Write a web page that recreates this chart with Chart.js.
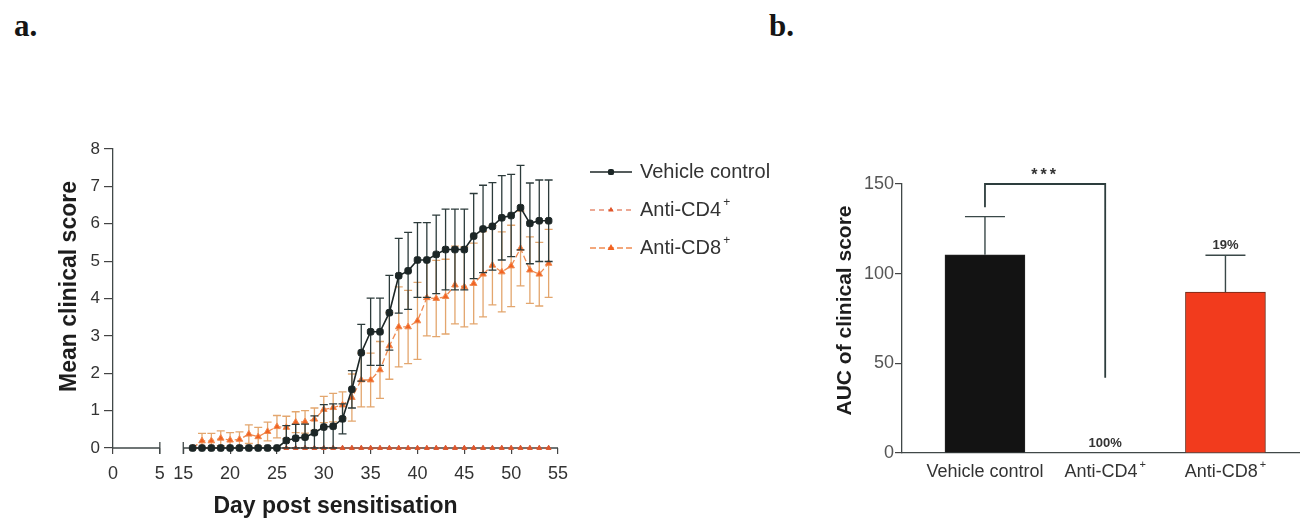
<!DOCTYPE html>
<html>
<head>
<meta charset="utf-8">
<title>Clinical score after T-cell depletion</title>
<script src="https://cdn.jsdelivr.net/npm/chart.js@4.4.1/dist/chart.umd.min.js"></script>
<style>
  html, body { margin: 0; padding: 0; background: #fff; }
  body { position: relative; width: 1300px; height: 525px; overflow: hidden; }
  .tag { position: absolute; top: 11px; font: bold 31px "Liberation Serif", "DejaVu Serif", serif; line-height: 30px; color: #151515; }
  .box { position: absolute; top: 0; height: 525px; }
  #boxA { left: 0; width: 790px; }
  #boxB { left: 790px; width: 510px; }
</style>
</head>
<body>
<div class="tag" style="left:14px">a.</div>
<div class="tag" style="left:769px">b.</div>
<div class="box" id="boxA"><canvas id="scoreChart"></canvas></div>
<div class="box" id="boxB"><canvas id="aucChart"></canvas></div>

<script>
// ==================================================
// DATA
// ==================================================
const days = [16, 17, 18, 19, 20, 21, 22, 23, 24, 25,
              26, 27, 28, 29, 30, 31, 32, 33, 34, 35,
              36, 37, 38, 39, 40, 41, 42, 43, 44, 45,
              46, 47, 48, 49, 50, 51, 52, 53, 54];

const vehicleMean = [0, 0, 0, 0, 0, 0, 0, 0, 0, 0,
                     0.2, 0.26, 0.29, 0.41, 0.56, 0.58, 0.78, 1.57, 2.55, 3.11,
                     3.11, 3.62, 4.61, 4.74, 5.03, 5.03, 5.18, 5.31, 5.31, 5.31,
                     5.67, 5.86, 5.93, 6.16, 6.22, 6.43, 6.01, 6.08, 6.08];
const vehicleSem  = [0, 0, 0, 0, 0, 0, 0, 0, 0, 0,
                     0.4, 0.37, 0.35, 0.45, 0.6, 0.6, 0.4, 0.5, 0.76, 0.9,
                     0.9, 1.0, 1.0, 1.03, 1.0, 1.0, 1.05, 1.08, 1.08, 1.08,
                     1.14, 1.17, 1.17, 1.13, 1.1, 1.13, 1.08, 1.09, 1.09];

const cd4Mean = [0, 0, 0, 0, 0, 0, 0, 0, 0, 0,
                 0, 0, 0, 0, 0, 0, 0, 0, 0, 0,
                 0, 0, 0, 0, 0, 0, 0, 0, 0, 0,
                 0, 0, 0, 0, 0, 0, 0, 0, 0];

const cd8Mean = [0, 0.19, 0.19, 0.26, 0.21, 0.23, 0.37, 0.3, 0.44, 0.57,
                 0.55, 0.69, 0.7, 0.77, 1.03, 1.08, 1.15, 1.35, 1.82, 1.82,
                 2.09, 2.73, 3.24, 3.24, 3.4, 4.02, 4.0, 4.05, 4.36, 4.31,
                 4.4, 4.65, 4.89, 4.71, 4.87, 5.34, 4.76, 4.65, 4.94];
const cd8Sem  = [0, 0.2, 0.2, 0.2, 0.2, 0.2, 0.25, 0.25, 0.25, 0.3,
                 0.3, 0.28, 0.3, 0.3, 0.35, 0.38, 0.35, 0.63, 0.72, 0.72,
                 0.76, 0.89, 1.07, 0.98, 1.03, 1.02, 1.02, 1.0, 1.04, 1.07,
                 1.08, 1.14, 1.06, 1.07, 1.09, 1.0, 0.89, 0.85, 0.91];

const dayTicks   = [0, 5, 15, 20, 25, 30, 35, 40, 45, 50, 55];
const dayBreak   = [5, 15];   // days 5..15 are cut out of the axis
const scoreTicks = [0, 1, 2, 3, 4, 5, 6, 7, 8];

const aucGroups    = ['Vehicle control', 'Anti-CD4⁺', 'Anti-CD8⁺'];
const aucMean      = [110.5, 0, 89.7];
const aucSem       = [21.3, 0, 20.6];
const aucReduction = ['', '100%', '19%'];
const aucTicks     = [0, 50, 100, 150];

const sigPair  = [0, 1];
const sigLegs  = [137, 42];
const sigTop   = 150;
const sigLabel = '***';

// ==================================================
// HELPERS
// ==================================================
const FONT = 'Arial, "Liberation Sans", Helvetica, sans-serif';
const BREAK_GAP = 2.5;   // width of the cut, in axis units

// text with a trailing ⁺ drawn as a small raised "+"
function drawLabel(ctx, label, x, y, size, weight, align, color) {
    const sup = label.endsWith('⁺');
    const base = sup ? label.slice(0, -1) : label;
    const supSize = Math.round(size * 0.62);
    ctx.font = `${weight} ${size}px ${FONT}`;
    const wBase = ctx.measureText(base).width;
    ctx.font = `${weight} ${supSize}px ${FONT}`;
    const wSup = sup ? ctx.measureText('+').width + 2 : 0;
    const left = align === 'center' ? x - (wBase + wSup) / 2 : x;
    ctx.fillStyle = color;
    ctx.textAlign = 'left';
    ctx.textBaseline = 'middle';
    ctx.font = `${weight} ${size}px ${FONT}`;
    ctx.fillText(base, left, y);
    if (sup) {
        ctx.font = `${weight} ${supSize}px ${FONT}`;
        ctx.fillText('+', left + wBase + 2, y - size * 0.38);
    }
}

// linear scale with a squeezed gap between dayBreak[0] and dayBreak[1]
class BrokenLinearScale extends Chart.LinearScale {
    squash(v) {
        const [a, b] = dayBreak;
        if (v <= a) return v;
        if (v >= b) return v - (b - a) + BREAK_GAP;
        return a + (v - a) / (b - a) * BREAK_GAP;
    }
    getPixelForValue(value) {
        const lo = this.squash(this.min);
        const hi = this.squash(this.max);
        return this.getPixelForDecimal((this.squash(value) - lo) / (hi - lo));
    }
    getValueForPixel(pixel) {
        const lo = this.squash(this.min);
        const hi = this.squash(this.max);
        const s = lo + this.getDecimalForPixel(pixel) * (hi - lo);
        const [a, b] = dayBreak;
        if (s <= a) return s;
        if (s >= a + BREAK_GAP) return s + (b - a) - BREAK_GAP;
        return a + (s - a) / BREAK_GAP * (b - a);
    }
}
BrokenLinearScale.id = 'brokenLinear';
BrokenLinearScale.defaults = Chart.LinearScale.defaults;
Chart.register(BrokenLinearScale);

// ==================================================
// PLUGINS
// ==================================================
const sideTitle = {
    id: 'sideTitle',
    afterDraw(chart, args, opts) {
        const { ctx, chartArea } = chart;
        ctx.save();
        ctx.translate(chartArea.left - opts.offset, (chartArea.top + chartArea.bottom) / 2 + opts.shift);
        ctx.rotate(-Math.PI / 2);
        ctx.font = `bold ${opts.size}px ${FONT}`;
        ctx.fillStyle = '#1d1d1d';
        ctx.textAlign = 'center';
        ctx.textBaseline = 'middle';
        ctx.fillText(opts.text, 0, 0);
        ctx.restore();
    }
};

// SEM whiskers, drawn under each dataset's own line
const errorBars = {
    id: 'errorBars',
    beforeDatasetDraw(chart, args) {
        const ds = chart.data.datasets[args.index];
        if (!ds.sem) return;
        const { ctx, scales: { x, y } } = chart;
        ctx.save();
        ctx.strokeStyle = ds.semColor;
        ctx.lineWidth = 1.3;
        ds.data.forEach((p, i) => {
            const s = ds.sem[i];
            if (!s) return;
            const px = x.getPixelForValue(p.x);
            const top = y.getPixelForValue(p.y + s);
            const bot = y.getPixelForValue(Math.max(p.y - s, 0));
            ctx.beginPath();
            ctx.moveTo(px, top); ctx.lineTo(px, bot);
            ctx.moveTo(px - 4, top); ctx.lineTo(px + 4, top);
            ctx.moveTo(px - 4, bot); ctx.lineTo(px + 4, bot);
            ctx.stroke();
        });
        ctx.restore();
    }
};

// x axis line in two pieces, with end caps at the cut
const brokenAxis = {
    id: 'brokenAxis',
    beforeDatasetsDraw(chart) {
        const { ctx, scales: { x, y } } = chart;
        const y0 = y.getPixelForValue(0);
        ctx.save();
        ctx.strokeStyle = '#404848';
        ctx.lineWidth = 1.3;
        [[x.min, dayBreak[0]], [dayBreak[1], x.max]].forEach(([a, b], k) => {
            const xa = x.getPixelForValue(a);
            const xb = x.getPixelForValue(b);
            ctx.beginPath();
            ctx.moveTo(xa, y0); ctx.lineTo(xb, y0);
            const cap = k === 0 ? xb : xa;
            ctx.moveTo(cap, y0 - 6); ctx.lineTo(cap, y0 + 6);
            ctx.stroke();
        });
        ctx.restore();
    }
};

const sideLegend = {
    id: 'sideLegend',
    afterDraw(chart, args, opts) {
        const { ctx, chartArea } = chart;
        const x0 = chartArea.right + opts.left;
        chart.data.datasets.forEach((ds, i) => {
            const yy = chartArea.top + opts.top + i * opts.rowGap;
            ctx.save();
            ctx.strokeStyle = ds.borderColor;
            ctx.lineWidth = ds.borderWidth;
            ctx.setLineDash(ds.borderDash || []);
            ctx.beginPath();
            ctx.moveTo(x0, yy); ctx.lineTo(x0 + opts.lineLen, yy);
            ctx.stroke();
            ctx.setLineDash([]);
            ctx.fillStyle = ds.backgroundColor;
            ctx.strokeStyle = ds.backgroundColor;
            Chart.helpers.drawPoint(ctx, {
                pointStyle: ds.pointStyle, radius: ds.pointRadius * 0.7, rotation: 0, borderWidth: 1
            }, x0 + opts.lineLen / 2, yy);
            drawLabel(ctx, ds.label, x0 + opts.lineLen + opts.gap, yy, 20, 'normal', 'left', '#333');
            ctx.restore();
        });
    }
};

// whiskers, % labels, significance bracket and group names for the AUC bars
const aucMarks = {
    id: 'aucMarks',
    afterDatasetsDraw(chart) {
        const { ctx, scales: { x, y } } = chart;
        const ds = chart.data.datasets[0];
        ctx.save();
        ctx.strokeStyle = '#3a4848';
        ctx.lineWidth = 1.4;
        ds.data.forEach((p, i) => {
            const px = x.getPixelForValue(p.x);
            const top = y.getPixelForValue(p.y + ds.sem[i]);
            if (ds.sem[i]) {
                ctx.beginPath();
                ctx.moveTo(px, y.getPixelForValue(p.y)); ctx.lineTo(px, top);
                ctx.moveTo(px - 20, top); ctx.lineTo(px + 20, top);
                ctx.stroke();
            }
            if (aucReduction[i]) {
                ctx.font = `bold 13px ${FONT}`;
                ctx.fillStyle = '#333';
                ctx.textAlign = 'center';
                ctx.textBaseline = 'middle';
                ctx.fillText(aucReduction[i], px, top - 10);
            }
        });

        // bracket
        const xa = x.getPixelForValue(sigPair[0]);
        const xb = x.getPixelForValue(sigPair[1]);
        const yt = y.getPixelForValue(sigTop);
        ctx.strokeStyle = '#2d3d3d';
        ctx.lineWidth = 1.8;
        ctx.beginPath();
        ctx.moveTo(xa, y.getPixelForValue(sigLegs[0]));
        ctx.lineTo(xa, yt);
        ctx.lineTo(xb, yt);
        ctx.lineTo(xb, y.getPixelForValue(sigLegs[1]));
        ctx.stroke();
        ctx.font = `bold 16px ${FONT}`;
        ctx.fillStyle = '#333';
        ctx.textAlign = 'center';
        ctx.textBaseline = 'middle';
        ctx.letterSpacing = '3px';
        ctx.fillText(sigLabel, (xa + xb) / 2, yt - 8);
        ctx.letterSpacing = '0px';

        aucGroups.forEach((g, i) => {
            drawLabel(ctx, g, x.getPixelForValue(i), y.bottom + 19, 18, 'normal', 'center', '#333');
        });
        ctx.restore();
    }
};

// ==================================================
// CHART A: MEAN CLINICAL SCORE
// ==================================================
const toPoints = (arr) => days.map((d, i) => ({ x: d, y: arr[i] }));

new Chart(document.getElementById('scoreChart'), {
    type: 'line',
    data: {
        datasets: [
            {
                label: 'Vehicle control',
                data: toPoints(vehicleMean),
                sem: vehicleSem,
                semColor: '#2c3b3b',
                borderColor: '#1c2626',
                backgroundColor: '#1c2626',
                borderWidth: 1.6,
                pointStyle: 'rectRounded',
                pointRadius: 3.8,
                pointBorderWidth: 1,
                clip: false
            },
            {
                label: 'Anti-CD4⁺',
                data: toPoints(cd4Mean),
                borderColor: '#d9542c',
                backgroundColor: '#e0552a',
                borderWidth: 1.2,
                borderDash: [5, 4],
                pointStyle: 'triangle',
                pointRadius: 2.8,
                pointBorderWidth: 1,
                clip: false
            },
            {
                label: 'Anti-CD8⁺',
                data: toPoints(cd8Mean),
                sem: cd8Sem,
                semColor: '#e3a66e',
                borderColor: '#f08a50',
                backgroundColor: '#f26322',
                borderWidth: 1.3,
                borderDash: [6, 3],
                pointStyle: 'triangle',
                pointRadius: 3.8,
                pointBorderWidth: 1,
                clip: false
            }
        ]
    },
    options: {
        animation: false,
        responsive: true,
        maintainAspectRatio: false,
        layout: { padding: { top: 149, right: 232, left: 0, bottom: 0 } },
        elements: { line: { tension: 0 } },
        plugins: {
            legend: { display: false },
            tooltip: { enabled: false },
            sideTitle: { text: 'Mean clinical score', size: 23, offset: 43, shift: -12 },
            sideLegend: { left: 32, top: 23, rowGap: 38, lineLen: 42, gap: 8 }
        },
        scales: {
            x: {
                type: 'brokenLinear',
                min: 0,
                max: 55,
                afterBuildTicks: (s) => { s.ticks = dayTicks.map(v => ({ value: v })); },
                ticks: { font: { family: FONT, size: 18 }, color: '#333', padding: 9, maxRotation: 0, autoSkip: false },
                grid: { drawOnChartArea: false, tickLength: 6, color: '#444', lineWidth: 1.2 },
                border: { display: false },
                title: {
                    display: true,
                    text: 'Day post sensitisation',
                    font: { family: FONT, size: 23, weight: 'bold' },
                    color: '#1d1d1d',
                    padding: { top: 0, bottom: 5 }
                },
                afterFit: (s) => { s.height = 77; }
            },
            y: {
                min: 0,
                max: 8,
                afterBuildTicks: (s) => { s.ticks = scoreTicks.map(v => ({ value: v })); },
                ticks: { font: { family: FONT, size: 17 }, color: '#333', padding: 4 },
                grid: { drawOnChartArea: false, tickLength: 9, color: '#444', lineWidth: 1.2 },
                border: { color: '#404848', width: 1.3 },
                afterFit: (s) => { s.width = 113; }
            }
        }
    },
    plugins: [brokenAxis, errorBars, sideTitle, sideLegend]
});

// ==================================================
// CHART B: AUC OF CLINICAL SCORE
// ==================================================
new Chart(document.getElementById('aucChart'), {
    type: 'bar',
    data: {
        datasets: [{
            data: aucMean.map((v, i) => ({ x: i, y: v })),
            sem: aucSem,
            backgroundColor: ['#131313', '#131313', '#f23b1d'],
            borderColor: ['#222', '#222', '#6b2a18'],
            borderWidth: 1,
            barThickness: 80
        }]
    },
    options: {
        animation: false,
        responsive: true,
        maintainAspectRatio: false,
        layout: { padding: { top: 184, right: 0, left: 0, bottom: 0 } },
        plugins: {
            legend: { display: false },
            tooltip: { enabled: false },
            sideTitle: { text: 'AUC of clinical score', size: 21, offset: 57, shift: -8 }
        },
        scales: {
            x: {
                type: 'linear',
                min: -0.69,
                max: 2.62,
                offset: false,
                afterBuildTicks: (s) => { s.ticks = aucGroups.map((g, i) => ({ value: i })); },
                ticks: { display: false },
                grid: { display: false },
                border: { display: true, color: '#404848', width: 1.3 },
                afterFit: (s) => { s.height = 72; }
            },
            y: {
                min: 0,
                max: 150,
                afterBuildTicks: (s) => { s.ticks = aucTicks.map(v => ({ value: v })); },
                ticks: { font: { family: FONT, size: 18 }, color: '#555', padding: 1 },
                grid: { drawOnChartArea: false, tickLength: 7, color: '#444', lineWidth: 1.2 },
                border: { color: '#404848', width: 1.3 },
                afterFit: (s) => { s.width = 112; }
            }
        }
    },
    plugins: [sideTitle, aucMarks]
});
</script>
</body>
</html>
